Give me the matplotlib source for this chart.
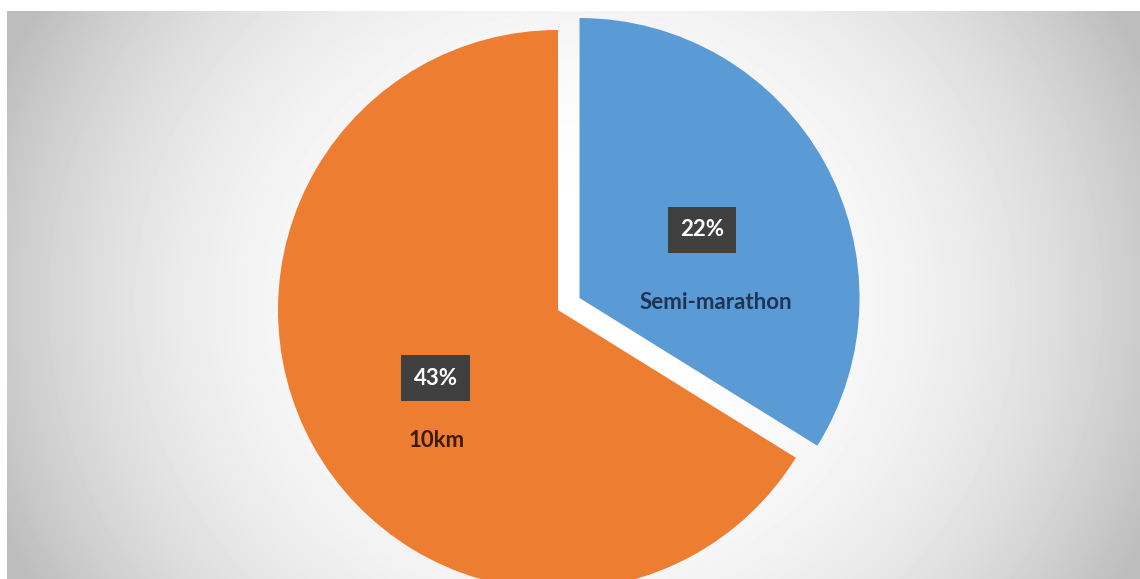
import matplotlib.pyplot as plt
import numpy as np

# data
categories = ["Semi-marathon", "10km"]
values = [22, 43]
pct_labels = ["22%", "43%"]

colors = ["#5b9bd5", "#ed7d31"]
label_colors = ["#1f3352", "#3d1a06"]
explode_frac = [0.088, 0.0]
# category label offset from the percentage box (pixels)
label_offsets = [(14, -73), (1, -62)]

W, H = 1140, 579
R = 280
fig = plt.figure(figsize=(W / 100, H / 100), dpi=100)
fig.patch.set_facecolor("white")

# chart-area background: soft radial gradient
bg = fig.add_axes([7 / W, 0, (W - 7) / W, (H - 11) / H])
yy, xx = np.mgrid[0:568, 0:1133]
r = np.sqrt(((xx - 568) / 580) ** 2 + ((yy - 290) / 540) ** 2)
shade = np.clip(1 - 0.216 * r ** 2.6, 0.74, 1)
bg.imshow(shade, cmap="gray", vmin=0, vmax=1, aspect="auto",
          interpolation="bilinear")
bg.axis("off")

# pie drawn in pixel coordinates
ax = fig.add_axes([0, 0, 1, 1])
wedges, _ = ax.pie(values, colors=colors,
                   explode=[e * R for e in explode_frac], startangle=90,
                   counterclock=False, center=(558, H - 310), radius=R,
                   wedgeprops=dict(linewidth=0))
ax.set_xlim(0, W)
ax.set_ylim(0, H)
ax.set_aspect("equal")
ax.axis("off")
for w in wedges:
    w.set_clip_on(False)

for w, pct, cat, lc, off in zip(wedges, pct_labels, categories,
                                label_colors, label_offsets):
    ang = np.deg2rad((w.theta1 + w.theta2) / 2)
    cx, cy = w.center
    px = cx + 0.5 * w.r * np.cos(ang)
    py = cy + 0.5 * w.r * np.sin(ang)
    ax.text(px, py, pct, ha="center", va="center", fontsize=16,
            fontfamily="Lato", fontweight="bold", color="white",
            bbox=dict(boxstyle="square,pad=0.55", fc="#404040", ec="none"))
    ax.annotate(cat, (px, py), xytext=(off[0] * 0.72, off[1] * 0.72),
                textcoords="offset points", ha="center", va="center",
                fontsize=16, fontfamily="Lato", fontweight="bold", color=lc)

fig.savefig("out.png", dpi=100)
